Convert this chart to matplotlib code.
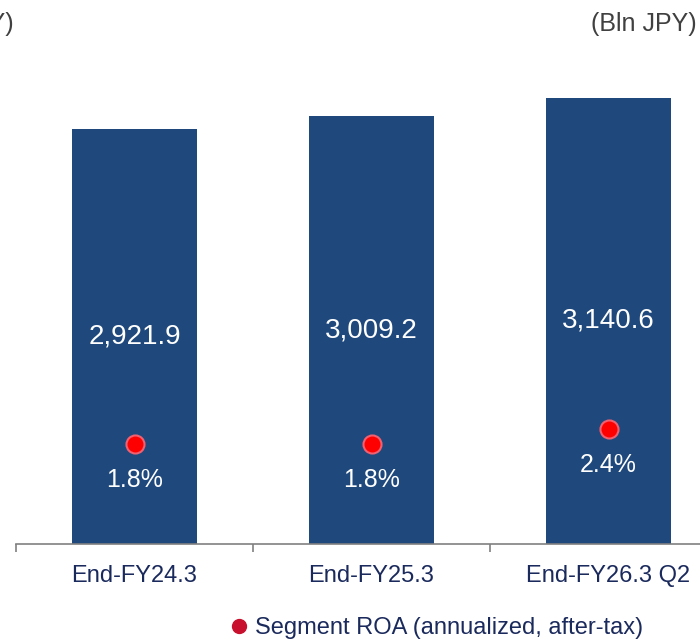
import matplotlib.pyplot as plt
from matplotlib.lines import Line2D

plt.rcParams['font.family'] = ['Liberation Sans', 'DejaVu Sans']

# data
categories = ['End-FY24.3', 'End-FY25.3', 'End-FY26.3 Q2']
assets = [2921.9, 3009.2, 3140.6]
roa = [1.8, 1.8, 2.4]

bar_color = '#1F497D'
navy = '#1B2A5C'

fig = plt.figure(figsize=(7, 6.42), dpi=100)
ax = fig.add_axes([16/700, 98/642, 684/700, 485/642])
x = list(range(len(categories)))

ax.bar(x, assets, width=0.527, color=bar_color, zorder=2)
for xi, v in zip(x, assets):
    ax.text(xi, v / 2, f'{v:,.1f}', ha='center', va='center', color='white', fontsize=20)

for s in ['top', 'right', 'left']:
    ax.spines[s].set_visible(False)
ax.spines['bottom'].set_color('#808080')
ax.spines['bottom'].set_linewidth(1.2)
ax.set_yticks([])
ax.set_xticks(x)
ax.set_xticklabels(categories, fontsize=17, color=navy)
ax.tick_params(axis='x', which='major', length=0, pad=15)
ax.set_xticks([-0.5, 0.5, 1.5, 2.5], minor=True)
ax.tick_params(axis='x', which='minor', length=6, color='#808080', width=1.2)
# limits after ticks, otherwise set_xticks widens them
ax.set_xlim(-0.5, -0.5 + 684/237)
ax.set_ylim(0, 3413)

ax2 = ax.twinx()
ax2.set_ylim(-2.2, 17.2)
ax2.axis('off')
ax2.plot(x, roa, 'o', ls='', color='#FF0000', markeredgecolor='#F06070',
         markeredgewidth=1.5, markersize=13, zorder=3)
for xi, r in zip(x, roa):
    ax2.annotate(f'{r:.1f}%', (xi, r), xytext=(0, -26), textcoords='offset points',
                 ha='center', va='center', color='white', fontsize=18)

# unit labels (left one is cut by the crop, as in the source)
fig.text(697/700, 1 - 24/642, '(Bln JPY)', ha='right', va='center', fontsize=18, color='#404040')
fig.text(14/700, 1 - 24/642, '(Bln JPY)', ha='right', va='center', fontsize=18, color='#404040')

handle = Line2D([], [], marker='o', ls='', color='#C8102E', markersize=10)
fig.legend(handles=[handle], labels=['Segment ROA (annualized, after-tax)'],
           loc='center left', bbox_to_anchor=(230/700, 1 - 628/642), frameon=False,
           handlelength=0.8, handletextpad=0.25, borderpad=0, borderaxespad=0,
           prop={'size': 17}, labelcolor=navy)

fig.savefig('out.png', dpi=100)
